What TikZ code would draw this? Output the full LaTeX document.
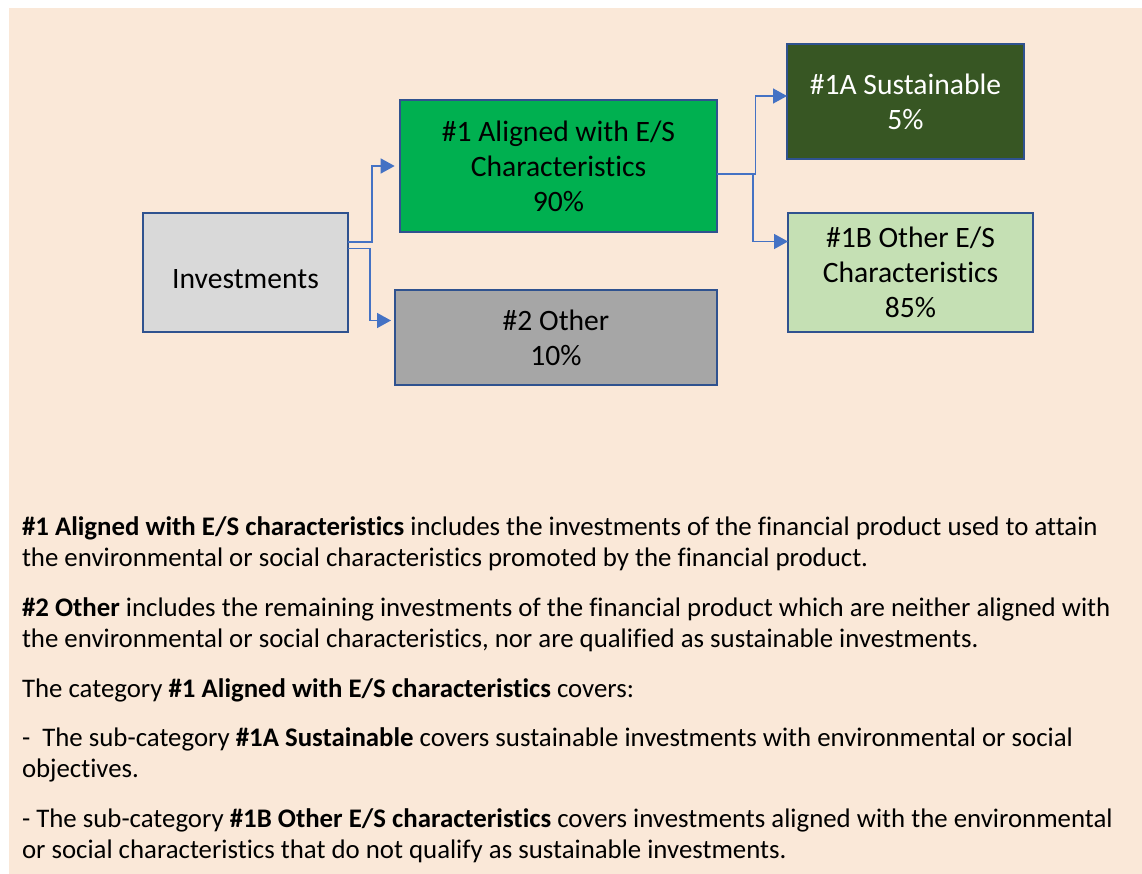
\documentclass[tikz,border=0pt]{standalone}
\usepackage{fontspec}
\setmainfont{Carlito}[Ligatures=NoCommon,Contextuals=NoAlternate]
\usetikzlibrary{arrows.meta,calc}
\newlength\pxu
\setlength\pxu{0.75pt}
\definecolor{bg}{HTML}{FAE8D8}
\definecolor{bord}{HTML}{2F528F}
\definecolor{connc}{HTML}{4472C4}
\definecolor{fgreen}{HTML}{00B050}
\definecolor{dgreen}{HTML}{375623}
\definecolor{lgreen}{HTML}{C5E0B4}
\definecolor{lgray}{HTML}{D9D9D9}
\definecolor{mgray}{HTML}{A6A6A6}
\begin{document}
\begin{tikzpicture}[x=0.75pt,y=-0.75pt,
  box/.style={draw=bord, line width=1.7pt, inner sep=0pt, outer sep=0pt, align=center,
    font=\fontsize{22.2}{26.25}\selectfont},
  link/.style={draw=connc, line width=1.1pt, -{Triangle[length=10.5pt,width=11.25pt]}},
  txt/.style={anchor=base west, inner sep=0pt, outer sep=0pt,
    font=\fontsize{20.12}{23.25}\selectfont}]
\useasboundingbox (0,0) rectangle (1142,874);
\fill[bg] (9,8) rectangle (1142,874);

% boxes
\node[box, fill=lgray, minimum width=205*\pxu, minimum height=119*\pxu, text height=23.3pt, text depth=0pt] (inv) at (245.5,272.5) {Investments};
\node[box, fill=fgreen, minimum width=317*\pxu, minimum height=132*\pxu] (a1) at (558.5,166) {\#1 Aligned with E/S\\Characteristics\\90\%};
\node[box, fill=mgray, minimum width=322*\pxu, minimum height=95*\pxu] (o2) at (556,337.5) {\#2 Other\\10\%};
\node[box, fill=dgreen, text=white, minimum width=237*\pxu, minimum height=115*\pxu] (s1a) at (905.5,101.5) {\#1A Sustainable\\5\%};
\node[box, fill=lgreen, minimum width=245*\pxu, minimum height=119*\pxu] (o1b) at (910.5,272.5) {\#1B Other E/S\\Characteristics\\85\%};

% connectors
\draw[link, shorten >=4pt] ($(inv.east)+(0,-30.5)$) -- ++(24,0) |- (a1.west);
\draw[link, shorten >=3pt] ($(inv.east)+(0,-24)$) -- ++(22,0) |- ($(o2.west)+(0,-17)$);
\draw[link] ($(a1.east)+(0,8)$) -- ++(38.5,0) |- ($(s1a.west)+(0,-5.5)$);
\draw[link] ($(a1.east)+(0,8)$) -- ++(36,0) |- ($(o1b.west)+(0,-31)$);

% text
\node[txt] (l1) at (22,535) {\textbf{\#1 Aligned with E/S characteristics} includes the investments of the financial product used to attain};
\node[txt] (l2) at (22,566) {the environmental or social characteristics promoted by the financial product.};
\node[txt] (l3) at (22,616) {\textbf{\#2 Other} includes the remaining investments of the financial product which are neither aligned with};
\node[txt] (l4) at (22,647) {the environmental or social characteristics, nor are qualified as sustainable investments.};
\node[txt] (l5) at (22,697) {The category \textbf{\#1 Aligned with E/S characteristics} covers:};
\node[txt] (l6) at (22,746) {-\ \ The sub-category \textbf{\#1A Sustainable} covers sustainable investments with environmental or social};
\node[txt] (l7) at (22,777) {objectives.};
\node[txt] (l8) at (22,827) {- The sub-category \textbf{\#1B Other E/S characteristics} covers investments aligned with the environmental};
\node[txt] (l9) at (22,858) {or social characteristics that do not qualify as sustainable investments.};
\end{tikzpicture}
\end{document}
